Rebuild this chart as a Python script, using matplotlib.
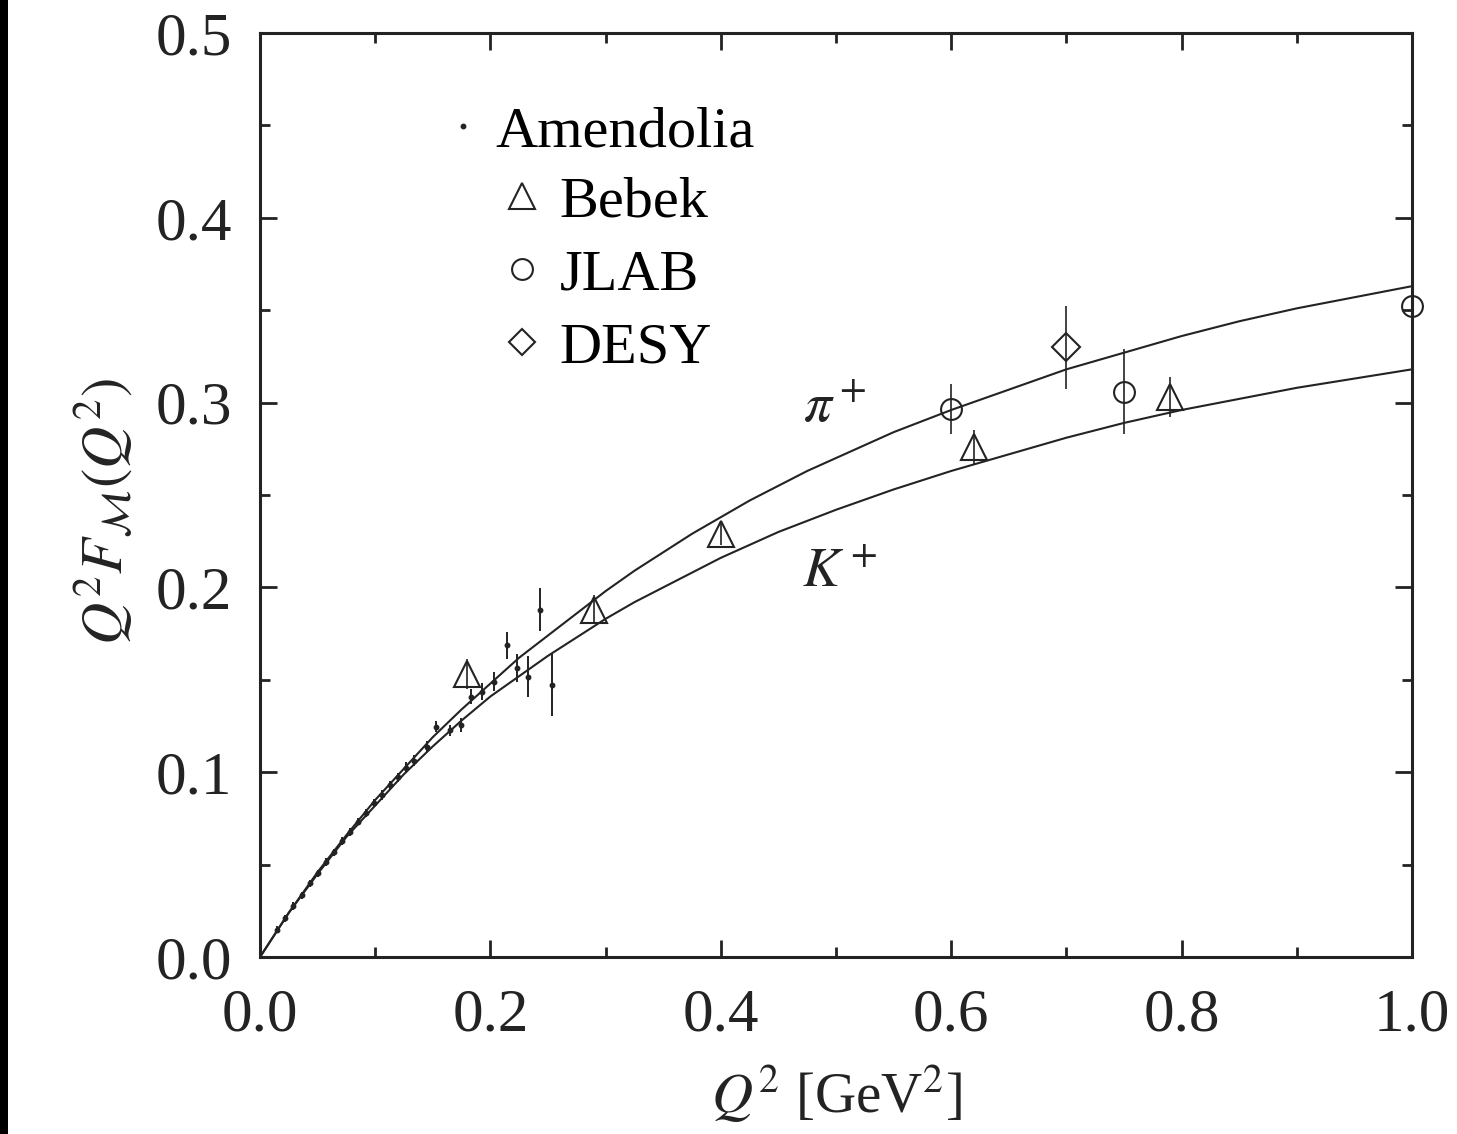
"""Meson form factors Q^2 F(Q^2) for pi+ and K+ with data points."""

import matplotlib

matplotlib.use("Agg")
import matplotlib.pyplot as plt
from matplotlib.lines import Line2D
from matplotlib.patches import Rectangle
from matplotlib.ticker import MultipleLocator

plt.rcParams["font.family"] = ["Liberation Serif", "DejaVu Serif"]
plt.rcParams["mathtext.fontset"] = "stix"

# model curves
curve_q2 = [0.0, 0.025, 0.05, 0.075, 0.1, 0.125, 0.15, 0.175, 0.2, 0.225, 0.25,
            0.275, 0.3, 0.325, 0.35, 0.375, 0.4, 0.425, 0.45, 0.475, 0.5, 0.55,
            0.6, 0.65, 0.7, 0.75, 0.8, 0.85, 0.9, 0.95, 1.0]
pion_curve = [0.0, 0.024, 0.046, 0.066, 0.085, 0.102, 0.119, 0.134, 0.148, 0.162,
              0.174, 0.186, 0.198, 0.209, 0.219, 0.229, 0.238, 0.247, 0.255, 0.263,
              0.270, 0.284, 0.296, 0.307, 0.318, 0.327, 0.336, 0.344, 0.351, 0.357,
              0.363]
kaon_curve = [0.0, 0.024, 0.045, 0.065, 0.082, 0.099, 0.114, 0.128, 0.141, 0.152,
              0.163, 0.173, 0.183, 0.192, 0.200, 0.208, 0.216, 0.223, 0.230, 0.236,
              0.242, 0.253, 0.263, 0.272, 0.281, 0.289, 0.296, 0.302, 0.308, 0.313,
              0.318]

# Amendolia (small dots)
amendolia_q2 = [0.015, 0.022, 0.029, 0.036, 0.043, 0.050, 0.057, 0.064, 0.071,
                0.078, 0.085, 0.092, 0.099, 0.106, 0.113, 0.120, 0.127, 0.134,
                0.145, 0.153, 0.165, 0.174, 0.183, 0.193, 0.203, 0.214, 0.223,
                0.233, 0.243, 0.253]
amendolia_val = [0.0148, 0.0209, 0.0276, 0.0334, 0.0399, 0.0453, 0.0515, 0.0567,
                 0.0627, 0.0676, 0.0733, 0.0779, 0.0834, 0.0877, 0.0930, 0.0972,
                 0.1024, 0.1063, 0.1138, 0.1246, 0.1228, 0.1255, 0.1409, 0.1436,
                 0.1490, 0.1688, 0.1562, 0.1517, 0.1878, 0.1472]
amendolia_err = [0.002, 0.002, 0.002, 0.002, 0.002, 0.002, 0.002, 0.002, 0.002,
                 0.002, 0.002, 0.002, 0.002, 0.0025, 0.0025, 0.0025, 0.003, 0.003,
                 0.003, 0.003, 0.003, 0.0036, 0.004, 0.0045, 0.005, 0.0073, 0.0076,
                 0.011, 0.0116, 0.0166]

# Bebek (open triangles)
bebek_q2 = [0.18, 0.29, 0.40, 0.62, 0.79]
bebek_val = [0.153, 0.188, 0.229, 0.276, 0.303]
bebek_err = [0.008, 0.008, 0.006, 0.009, 0.011]

# JLAB (open circles)
jlab_q2 = [0.60, 0.75, 1.00]
jlab_val = [0.2965, 0.306, 0.352]
jlab_err = [0.0135, 0.023, 0.013]

# DESY (open diamonds)
desy_q2 = [0.70]
desy_val = [0.330]
desy_err = [0.0225]

INK = "#232323"


def main() -> None:
    fig = plt.figure(figsize=(14.57, 11.34), dpi=100)
    ax = fig.add_axes([0.1785, 0.1561, 0.7906, 0.8148])

    fig.patches.append(Rectangle((0, 0), 8 / 1457, 1, transform=fig.transFigure,
                                 facecolor="black", edgecolor="none"))

    ax.plot(curve_q2, pion_curve, color=INK, lw=1.5)
    ax.plot(curve_q2, kaon_curve, color=INK, lw=1.5)

    ax.errorbar(amendolia_q2, amendolia_val, yerr=amendolia_err, fmt="o", ms=3.2,
                color=INK, elinewidth=1.4, capsize=0)
    ax.errorbar(bebek_q2, bebek_val, yerr=bebek_err, fmt="^", ms=19, mfc="none",
                mec=INK, mew=1.5, color=INK, elinewidth=1.2, capsize=0)
    ax.errorbar(jlab_q2, jlab_val, yerr=jlab_err, fmt="o", ms=15, mfc="none",
                mec=INK, mew=1.5, color=INK, elinewidth=1.2, capsize=0, clip_on=False)
    ax.errorbar(desy_q2, desy_val, yerr=desy_err, fmt="D", ms=14, mfc="none",
                mec=INK, mew=1.5, color=INK, elinewidth=1.2, capsize=0)

    ax.text(0.499, 0.297, r"$\pi^+$", fontsize=40, ha="center", va="center", color=INK)
    ax.text(0.503, 0.208, r"$K^+$", fontsize=40, ha="center", va="center", color=INK)

    ax.set_xlim(0, 1.0)
    ax.set_ylim(0, 0.5)
    ax.xaxis.set_major_locator(MultipleLocator(0.2))
    ax.xaxis.set_minor_locator(MultipleLocator(0.1))
    ax.yaxis.set_major_locator(MultipleLocator(0.1))
    ax.yaxis.set_minor_locator(MultipleLocator(0.05))
    ax.xaxis.set_major_formatter(lambda v, _: f"{v:.1f}")
    ax.yaxis.set_major_formatter(lambda v, _: f"{v:.1f}")
    ax.tick_params(which="both", direction="in", top=True, right=True,
                   width=2, colors=INK, labelcolor=INK, labelsize=44)
    ax.tick_params(which="major", length=12)
    ax.tick_params(which="minor", length=7)
    ax.tick_params(axis="x", pad=22)
    ax.tick_params(axis="y", pad=20)
    for spine in ax.spines.values():
        spine.set_linewidth(2.2)
        spine.set_color(INK)

    ax.set_xlabel(r"$Q^2$ [GeV$^2$]", fontsize=41, color=INK)
    ax.set_ylabel(r"$Q^2F_{\mathcal{M}}(Q^2)$", fontsize=42, color=INK)
    ax.xaxis.set_label_coords(0.5, -0.115)
    ax.yaxis.set_label_coords(-0.136, 0.482)
    ax.yaxis.label.set_va("center")

    first = ax.legend(
        handles=[Line2D([], [], ls="none", marker="o", ms=3.2, color=INK)],
        labels=["Amendolia"], loc="upper left", bbox_to_anchor=(0.156, 0.921),
        frameon=False, fontsize=42, handlelength=0.8, handletextpad=0.15,
        borderaxespad=0, borderpad=0)
    ax.add_artist(first)
    ax.legend(
        handles=[
            Line2D([], [], ls="none", marker="^", ms=19, mfc="none", mec=INK, mew=1.5),
            Line2D([], [], ls="none", marker="o", ms=15, mfc="none", mec=INK, mew=1.5),
            Line2D([], [], ls="none", marker="D", ms=13, mfc="none", mec=INK, mew=1.5),
        ],
        labels=["Bebek", "JLAB", "DESY"], loc="upper left",
        bbox_to_anchor=(0.207, 0.846), frameon=False, fontsize=42,
        handlelength=0.8, handletextpad=0.25, labelspacing=0.35,
        borderaxespad=0, borderpad=0)

    fig.savefig("out.png", facecolor="white")
    plt.close(fig)


if __name__ == "__main__":
    main()
